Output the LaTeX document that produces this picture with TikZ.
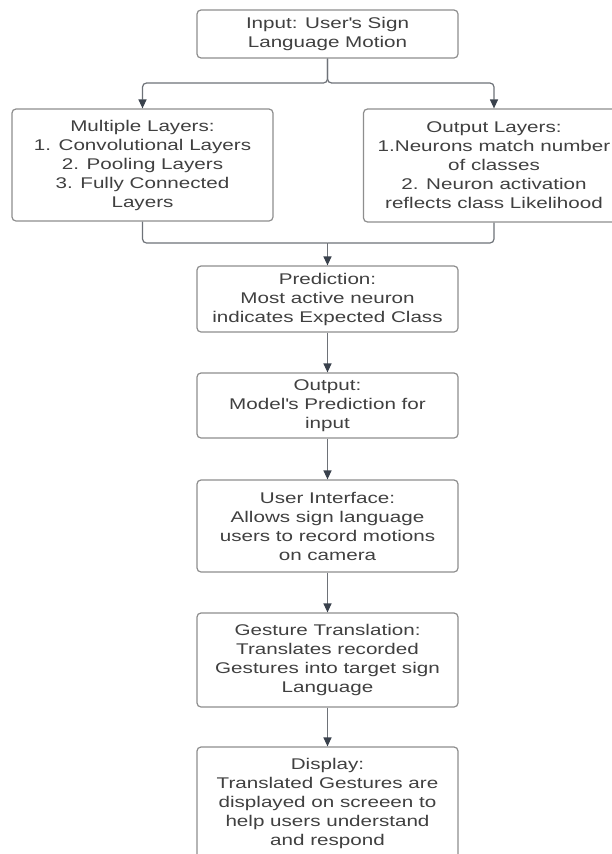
\documentclass[tikz,border=0pt]{standalone}
\usepackage{fontspec}
\setmainfont{Liberation Sans}[FakeStretch=1.33]
\usepackage{tikz}
\usetikzlibrary{arrows.meta}
\definecolor{fc-border}{HTML}{8E8E8E}
\definecolor{fc-text}{HTML}{404040}
\definecolor{fc-line}{HTML}{6E7278}
\definecolor{fc-arrow}{HTML}{39414C}

\begin{document}
\begin{tikzpicture}[x=1pt, y=-1pt,
    fcbox/.style={draw=fc-border, line width=1.2pt, rounded corners=4pt, text=fc-text, align=center,
        minimum width=261pt, inner sep=0pt, font=\fontsize{15.5}{19}\selectfont},
    fcline/.style={draw=fc-line, line width=1.2pt, rounded corners=4pt},
    fcarrow/.style={fcline, -{Triangle[width=8pt, length=9pt, color=fc-arrow]}}]
    \useasboundingbox (0,0) rectangle (612,854);
    \fill[white] (0,0) rectangle (612,854);
    % boxes
    \node[fcbox, minimum height=48pt] (in) at (327.5,34) {Input: User\textquotesingle s Sign\\Language Motion};
    \node[fcbox, minimum height=112pt] (layers) at (142.5,165) {Multiple Layers:\\1. Convolutional Layers\\2. Pooling Layers\\3. Fully Connected\\Layers};
    \node[fcbox, minimum height=113pt] (outl) at (494,165.5) {Output Layers:\\1.Neurons match number\\of classes\\2. Neuron activation\\reflects class Likelihood};
    \node[fcbox, minimum height=66pt] (pred) at (327.5,299) {Prediction:\\Most active neuron\\indicates Expected Class};
    \node[fcbox, minimum height=65pt] (outp) at (327.5,405.5) {Output:\\Model\textquotesingle s Prediction for\\input};
    \node[fcbox, minimum height=92pt] (ui) at (327.5,526) {User Interface:\\Allows sign language\\users to record motions\\on camera};
    \node[fcbox, minimum height=94pt] (gest) at (327.5,660) {Gesture Translation:\\Translates recorded\\Gestures into target sign\\Language};
    \node[fcbox, minimum height=112pt] (disp) at (327.5,803) {Display:\\Translated Gestures are\\displayed on screeen to\\help users understand\\and respond};
    % split and merge
    \coordinate (split) at (327.5,83);
    \coordinate (merge) at (327.5,243);
    \draw[fcarrow] (in.south) -- (split) -| (layers.north);
    \draw[fcarrow] (in.south) -- (split) -| (outl.north);
    \draw[fcline] (layers.south) |- (merge);
    \draw[fcline] (outl.south) |- (merge);
    \draw[fcarrow] (merge) -- (pred.north);
    % chain
    \draw[fcarrow] (pred) -- (outp);
    \draw[fcarrow] (outp) -- (ui);
    \draw[fcarrow] (ui) -- (gest);
    \draw[fcarrow] (gest) -- (disp);
\end{tikzpicture}
\end{document}
